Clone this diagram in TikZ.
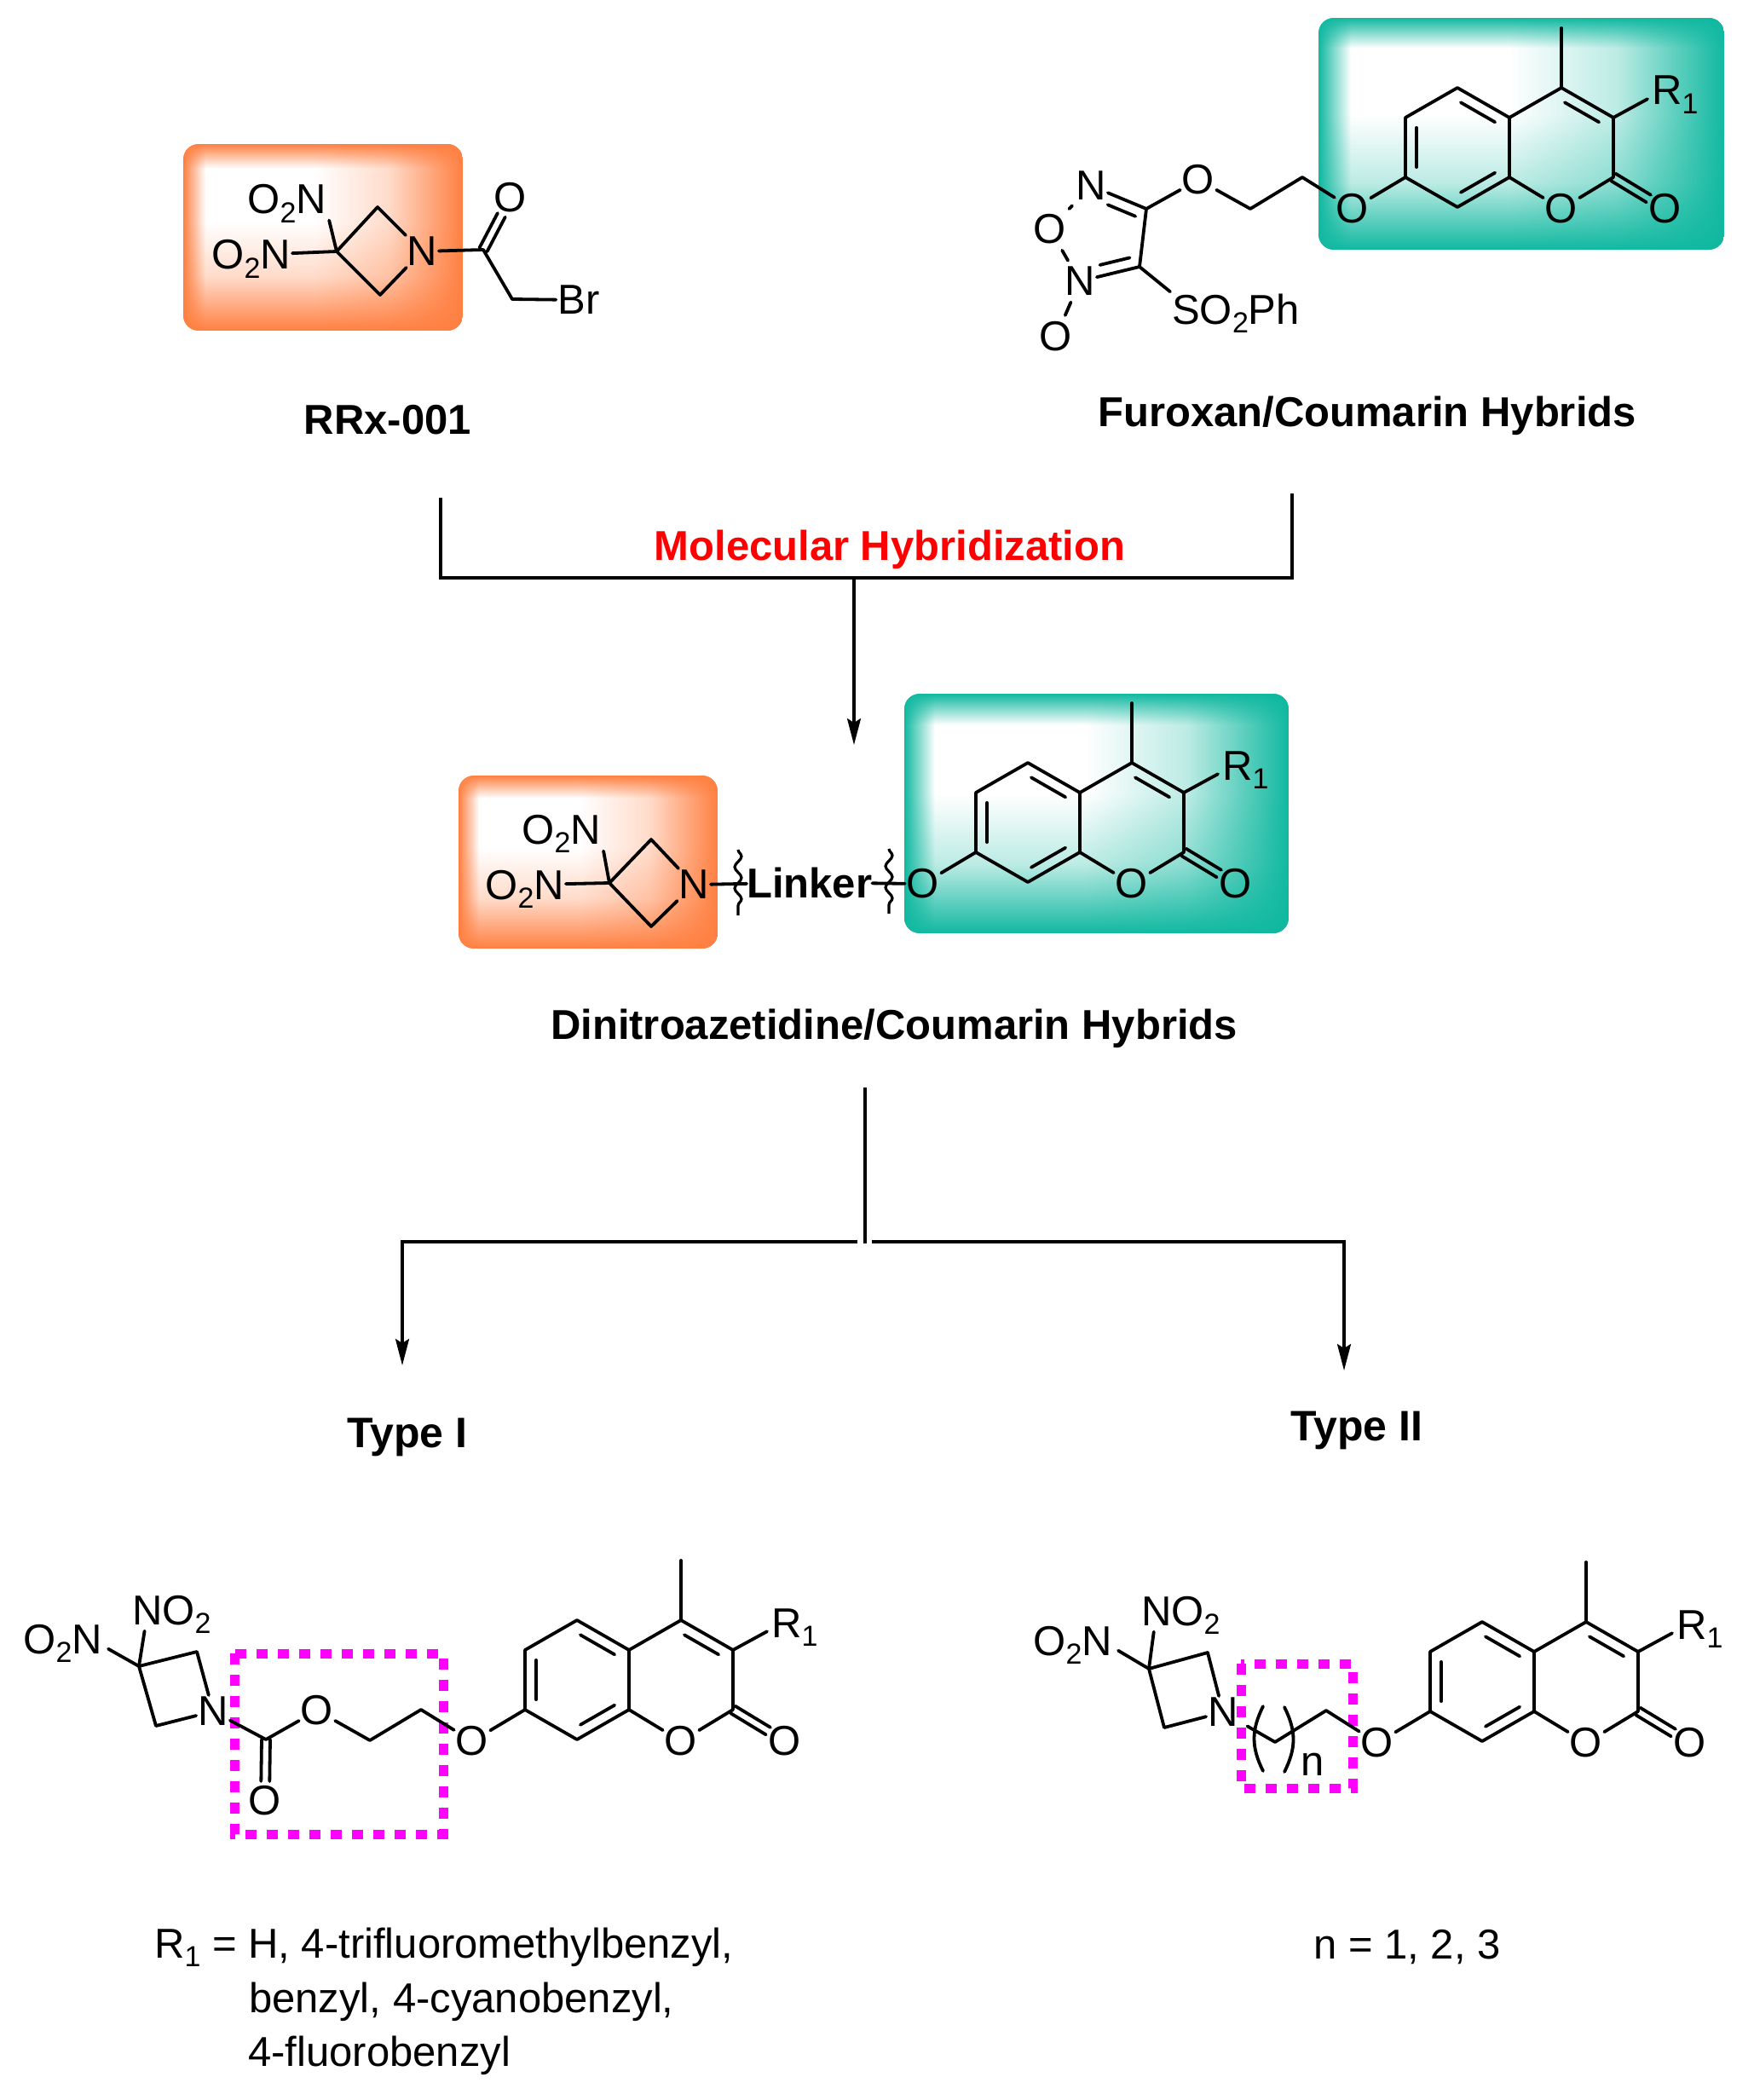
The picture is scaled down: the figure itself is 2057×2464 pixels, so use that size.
\documentclass[tikz,border=0pt]{standalone}
\usepackage{fontspec}
\setmainfont{Liberation Sans}
\usetikzlibrary{arrows.meta,calc,fadings,decorations.pathmorphing}

\definecolor{azetorange}{HTML}{FF7F41}
\definecolor{coumteal}{HTML}{10B8A0}
\definecolor{linkmark}{HTML}{FF00FF}
\definecolor{hybridred}{HTML}{FF0000}

\tikzfading[name=fadeleft, left color=transparent!0, right color=transparent!100]
\tikzfading[name=faderight, left color=transparent!100, right color=transparent!0, middle color=transparent!72]
\tikzfading[name=fadetop, top color=transparent!0, bottom color=transparent!100]
\tikzfading[name=fadebottom, top color=transparent!100, bottom color=transparent!0, middle color=transparent!72]

\tikzset{
  atom/.style={font=\fontsize{49}{49}\selectfont, inner sep=2pt},
  molname/.style={font=\bfseries\fontsize{49}{49}\selectfont, inner sep=0pt, anchor=base},
  note/.style={font=\fontsize{49}{49}\selectfont, inner sep=0pt, anchor=base west},
  bond/.style={line width=3.8pt, line join=round, line cap=round},
  link/.style={line width=3.2pt, line join=miter},
  linkarrow/.style={link, -{Stealth[length=31pt, width=16pt, inset=5pt]}},
  markbox/.style={draw=linkmark, line width=11pt, dash pattern=on 13pt off 12pt},
  cutline/.style={line width=3.2pt, decorate, decoration={snake, segment length=25pt, amplitude=4pt}},
}

\newcommand{\lowidx}[1]{\raisebox{-0.22em}[0pt][0pt]{\fontsize{34}{34}\selectfont #1}}

% colour, then the two corners
\newcommand{\shadebox}[5]{
  \begin{scope}
    \clip [rounded corners=18pt] (#2, #3) rectangle (#4, #5);
    \pgfmathsetmacro{\bl}{#2+0.08*(#4-#2)}
    \pgfmathsetmacro{\br}{#2+0.47*(#4-#2)}
    \pgfmathsetmacro{\bt}{#3+0.13*(#5-#3)}
    \pgfmathsetmacro{\bb}{#3+0.42*(#5-#3)}
    \fill [#1, path fading=fadeleft] (#2, #3) rectangle (\bl, #5);
    \fill [#1, path fading=faderight] (\br, #3) rectangle (#4, #5);
    \fill [#1, path fading=fadetop] (#2, #3) rectangle (#4, \bt);
    \fill [#1, path fading=fadebottom] (#2, \bb) rectangle (#4, #5);
  \end{scope}
}

% second line of a double bond, on the right of the way from #1 to #2
\newcommand{\innerbond}[4]{
  \draw [bond] ($(#1)!#3!(#2)!13pt!-90:(#2)$) -- ($(#2)!#4!(#1)!13pt!90:(#1)$);
}

% C=O, two lines side by side
\newcommand{\exobond}[2]{
  \draw [bond, shorten >=23pt] ($(#1)!5pt!90:(#2)$) -- ($(#2)!5pt!-90:(#1)$);
  \draw [bond, shorten >=23pt] ($(#1)!5pt!-90:(#2)$) -- ($(#2)!5pt!90:(#1)$);
}

% prefix, position of the ring fusion carbon
\newcommand{\coumarin}[3]{
  \begin{scope}[shift={(#2, #3)}]
    \path (0, 0) coordinate (#1cf);
    \path (0, 70) coordinate (#1cg);
    \path (-61, -35) coordinate (#1ce);
    \path (-122, 0) coordinate (#1cd);
    \path (-122, 70) coordinate (#1cc);
    \path (-61, 105) coordinate (#1cb);
    \path (61, -35) coordinate (#1ch);
    \path (122, 0) coordinate (#1ci);
    \path (122, 70) coordinate (#1cj);
    \path (61, -105) coordinate (#1me);
    \path (-184, 107) node [atom] (#1oa) {O};
    \path (61, 107) node [atom] (#1ob) {O};
    \path (183, 107) node [atom] (#1oc) {O};
    \path (167, -15) node [atom, anchor=base west, inner sep=0pt] (#1r) {R\lowidx{1}};
  \end{scope}
  \draw [bond] (#1cc) -- (#1cd) -- (#1ce) -- (#1cf) -- (#1cg) -- (#1cb) -- cycle;
  \draw [bond] (#1cf) -- (#1ch) -- (#1ci) -- (#1cj);
  \draw [bond] (#1ch) -- (#1me);
  \draw [bond] (#1cj) -- (#1ob) -- (#1cg);
  \draw [bond] (#1cc) -- (#1oa);
  \draw [bond] (#1ci) -- ($(#1r.south west)+(-5, -7)$);
  \innerbond{#1ce}{#1cf}{.17}{.17}
  \innerbond{#1cg}{#1cb}{.17}{.17}
  \innerbond{#1cc}{#1cd}{.17}{.17}
  \innerbond{#1ch}{#1ci}{.17}{.17}
  \exobond{#1cj}{#1oc}
}

\begin{document}
\begin{tikzpicture}[x=1pt, y=-1pt]
    \useasboundingbox (0, 0) rectangle (2057, 2464);

    % Highlight boxes
    \shadebox{azetorange}{215}{169}{543}{388}
    \shadebox{coumteal}{1547}{21}{2023}{293}
    \shadebox{azetorange}{538}{910}{842}{1113}
    \shadebox{coumteal}{1061}{814}{1512}{1095}

    % Marked linkers
    \path [markbox] (275, 1940) rectangle (520, 2152);
    \path [markbox] (1456, 1952) rectangle (1587, 2098);

    % Coumarin parts
    \foreach \n/\x/\y in {f/1771/138, h/1267/930, s/738/1936, t/1800/1938} {
      \coumarin{\n}{\x}{\y}
    }

    % RRx-001
    \path (395, 295) coordinate (ac);
    \path (443, 243) coordinate (at);
    \path (446, 346) coordinate (ab);
    \path (495, 295) node [atom] (an) {N};
    \path (385, 251) node [atom, anchor=base east] (ana) {O\lowidx{2}N};
    \path (343, 316) node [atom, anchor=base east] (anb) {O\lowidx{2}N};
    \path (567, 293) coordinate (aco);
    \path (599, 232) node [atom] (ao) {O};
    \path (601, 351) coordinate (ach);
    \path (679, 352) node [atom] (abr) {Br};
    \draw [bond] (an) -- (at) -- (ac) -- (ab) -- (an);
    \draw [bond, shorten >=5pt] (ac) -- (ana.south east);
    \draw [bond] (ac) -- (anb);
    \draw [bond] (an) -- (aco) -- (ach) -- (abr);
    \exobond{aco}{ao}
    \path (455, 509) node [molname] (aname) {RRx-001};

    % Furoxan/Coumarin hybrid
    \path (1528, 208) coordinate (fca);
    \path (1467, 245) coordinate (fcb);
    \path (1406, 211) node [atom] (fo) {O};
    \path (1345, 245) coordinate (fcc);
    \path (1337, 313) coordinate (fcd);
    \path (1280, 218) node [atom] (fna) {N};
    \path (1232, 269) node [atom] (fob) {O};
    \path (1267, 330) node [atom] (fnb) {N};
    \path (1239, 395) node [atom] (foc) {O};
    \path (1373, 380) node [atom, anchor=base west] (fso) {SO\lowidx{2}Ph};
    \draw [bond] (foa) -- (fca) -- (fcb) -- (fo) -- (fcc) -- (fcd) -- (fso.north west);
    \draw [bond] (fcc) -- (fna);
    \draw [bond] (fcd) -- (fnb);
    \draw [bond, shorten >=6pt, shorten <=6pt] (fna) -- (fob);
    \draw [bond, shorten >=6pt, shorten <=6pt] (fob) -- (fnb);
    \draw [bond, shorten >=6pt, shorten <=6pt] (fnb) -- (foc);
    \innerbond{fna}{fcc}{.38}{.12}
    \innerbond{fcd}{fnb}{.12}{.38}
    \path (1604, 500) node [molname] (fname) {Furoxan/Coumarin Hybrids};

    % Molecular hybridization bracket
    \path (517, 584) coordinate (bla);
    \path (517, 678) coordinate (blb);
    \path (1516, 579) coordinate (bra);
    \path (1516, 678) coordinate (brb);
    \path (1002, 678) coordinate (bst);
    \path (1002, 874) coordinate (bsb);
    \draw [link] (bla) -- (blb) -- (brb) -- (bra);
    \draw [linkarrow] (bst) -- (bsb);
    \path (1044, 657) node [molname, text=hybridred] (bname) {Molecular Hybridization};

    % Dinitroazetidine/Coumarin hybrid
    \path (715, 1036) coordinate (hc);
    \path (764, 985) coordinate (ht);
    \path (764, 1087) coordinate (hb);
    \path (814, 1038) node [atom] (hn) {N};
    \path (707, 990) node [atom, anchor=base east] (hna) {O\lowidx{2}N};
    \path (664, 1055) node [atom, anchor=base east] (hnb) {O\lowidx{2}N};
    \path (876, 1053) node [molname, anchor=base west] (hl) {Linker};
    \draw [bond] (hn) -- (ht) -- (hc) -- (hb) -- (hn);
    \draw [bond, shorten >=6pt] (hc) -- (hna.south east);
    \draw [bond] (hc) -- (hnb);
    \draw [bond] (hn) -- (hl);
    \draw [bond] (hl) -- (hoa);
    \path (866, 997) coordinate (hwa);
    \path (866, 1074) coordinate (hwb);
    \path (1043, 996) coordinate (hwc);
    \path (1043, 1072) coordinate (hwd);
    \draw [cutline] (hwa) -- (hwb);
    \draw [cutline] (hwc) -- (hwd);
    \path (1049, 1219) node [molname] (hname) {Dinitroazetidine/Coumarin Hybrids};

    % Split into the two types
    \path (1015, 1276) coordinate (sa);
    \path (1015, 1459) coordinate (sb);
    \path (1006, 1457) coordinate (sl);
    \path (472, 1457) coordinate (slc);
    \path (472, 1602) coordinate (slt);
    \path (1023, 1457) coordinate (sr);
    \path (1577, 1457) coordinate (src);
    \path (1577, 1608) coordinate (srt);
    \draw [link] (sa) -- (sb);
    \draw [linkarrow] (sl) -- (slc) -- (slt);
    \draw [linkarrow] (sr) -- (src) -- (srt);
    \path (478, 1698) node [molname, font=\bfseries\fontsize{50}{50}\selectfont] (sname) {Type I};
    \path (1592, 1690) node [molname, font=\bfseries\fontsize{50}{50}\selectfont] (tname) {Type II};

    % Type I
    \path (163, 1955) coordinate (sc);
    \path (231, 1938) coordinate (st);
    \path (183, 2025) coordinate (sd);
    \path (250, 2008) node [atom] (sn) {N};
    \path (153, 1906) node [atom, anchor=base west] (sna) {NO\lowidx{2}};
    \path (122, 1940) node [atom, anchor=base east] (snb) {O\lowidx{2}N};
    \path (312, 2041) coordinate (scb);
    \path (311, 2113) node [atom] (sob) {O};
    \path (372, 2007) node [atom] (so) {O};
    \path (434, 2042) coordinate (sea);
    \path (494, 2006) coordinate (seb);
    \draw [bond] (sn) -- (st) -- (sc) -- (sd) -- (sn);
    \draw [bond, shorten >=5pt] (sc) -- ($(sna.south west)!.18!(sna.south east)$);
    \draw [bond] (sc) -- ($(snb.south east)+(5, -8)$);
    \draw [bond] (sn) -- (scb) -- (so) -- (sea) -- (seb) -- (soa);
    \exobond{scb}{sob}

    % Type II
    \path (1348, 1958) coordinate (tc);
    \path (1417, 1939) coordinate (tt);
    \path (1366, 2027) coordinate (td);
    \path (1435, 2009) node [atom] (tn) {N};
    \path (1337, 1907) node [atom, anchor=base west] (tna) {NO\lowidx{2}};
    \path (1307, 1942) node [atom, anchor=base east] (tnb) {O\lowidx{2}N};
    \path (1496, 2044) coordinate (tea);
    \path (1556, 2007) coordinate (teb);
    \draw [bond] (tn) -- (tt) -- (tc) -- (td) -- (tn);
    \draw [bond, shorten >=5pt] (tc) -- ($(tna.south west)!.18!(tna.south east)$);
    \draw [bond] (tc) -- ($(tnb.south east)+(5, -8)$);
    \draw [bond, shorten <=10pt] (tn) -- (tea) -- (teb) -- (toa);
    \draw [bond] (1482, 2002) .. controls (1468, 2030) and (1468, 2050) .. (1482, 2078);
    \draw [bond] (1507, 2003) .. controls (1521, 2031) and (1521, 2051) .. (1507, 2079);
    \path (1526, 2083) node [note] (tsub) {n};

    % Substituents
    \path (181, 2297) node [note] (ra) {R\lowidx{1} = H, 4-trifluoromethylbenzyl,};
    \path (292, 2361) node [note] (rb) {benzyl, 4-cyanobenzyl,};
    \path (291, 2424) node [note] (rc) {4-fluorobenzyl};
    \path (1541, 2298) node [note] (rn) {n = 1, 2, 3};
\end{tikzpicture}
\end{document}
